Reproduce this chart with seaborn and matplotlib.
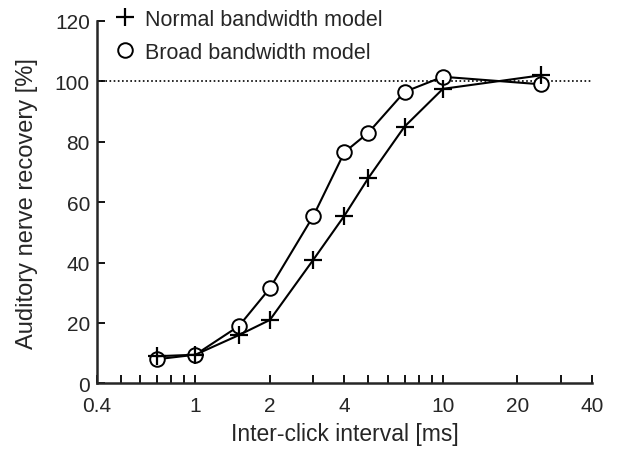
import numpy as np
import pandas as pd
import matplotlib
matplotlib.use("Agg")
import matplotlib.pyplot as plt
from matplotlib.lines import Line2D
from matplotlib.ticker import FixedLocator, NullFormatter
import seaborn as sns

# data
interval_ms = [0.7, 1, 1.5, 2, 3, 4, 5, 7, 10, 25]
normal_bw = [9, 9.5, 16, 21, 41, 55.5, 68, 85, 97.5, 102]
broad_bw = [8, 9.5, 19, 31.5, 55.5, 76.5, 83, 96.5, 101.5, 99]
xtick_major = [0.4, 1, 2, 4, 10, 20, 40]
xtick_minor = [0.5, 0.6, 0.7, 0.8, 0.9, 3, 5, 6, 7, 8, 9, 30]
ytick_vals = [0, 20, 40, 60, 80, 100, 120]

sns.set_style("ticks")
plt.rcParams['font.family'] = ['Liberation Sans', 'DejaVu Sans']

df = pd.DataFrame({
    "interval": interval_ms * 2,
    "recovery": normal_bw + broad_bw,
    "model": ["Normal bandwidth model"] * len(interval_ms) + ["Broad bandwidth model"] * len(interval_ms),
})

fig = plt.figure(figsize=(6.29, 4.56), dpi=100)
ax = fig.add_axes([0.154, 0.157, 0.787, 0.795])

ax.axhline(100, color="black", ls=(0, (1, 1.5)), lw=1.2, zorder=1)

sns.lineplot(data=df[df.model == "Normal bandwidth model"], x="interval", y="recovery",
             color="black", lw=1.5, marker="+", markersize=13, mew=1.6,
             markeredgecolor="black", ax=ax, legend=False, zorder=3)
sns.lineplot(data=df[df.model == "Broad bandwidth model"], x="interval", y="recovery",
             color="black", lw=1.5, marker="o", markersize=10.5, mew=1.4,
             markerfacecolor="white", markeredgecolor="black",
             ax=ax, legend=False, zorder=2)

ax.set_xscale("log")
ax.set_xlim(0.4, 40)
ax.set_ylim(0, 120)
ax.xaxis.set_major_locator(FixedLocator(xtick_major))
ax.xaxis.set_minor_locator(FixedLocator(xtick_minor))
ax.xaxis.set_minor_formatter(NullFormatter())
ax.set_xticklabels([f"{v:g}" for v in xtick_major])
ax.set_yticks(ytick_vals)

ax.tick_params(which="both", direction="in", width=1.3, labelsize=15, color="black")
ax.tick_params(which="major", length=6)
ax.tick_params(axis="x", which="major", pad=9)
ax.tick_params(axis="y", which="major", pad=5)
ax.tick_params(which="minor", length=6)
for s in ["top", "right"]:
    ax.spines[s].set_visible(False)
for s in ["left", "bottom"]:
    ax.spines[s].set_linewidth(1.8)

ax.set_xlabel("Inter-click interval [ms]", fontsize=16.5, labelpad=5)
ax.set_ylabel("Auditory nerve recovery [%]", fontsize=17, labelpad=12)

handles = [
    Line2D([], [], ls="none", marker="+", color="black", markersize=13, mew=1.6),
    Line2D([], [], ls="none", marker="o", markerfacecolor="white", markeredgecolor="black",
           markersize=10.5, mew=1.4),
]
ax.legend(handles, ["Normal bandwidth model", "Broad bandwidth model"], loc="upper left",
          bbox_to_anchor=(0.0, 1.075), frameon=False, fontsize=15.5, handlelength=1.2,
          handletextpad=0.35, labelspacing=0.55, borderaxespad=0.3)

fig.savefig("out.png", dpi=100)
